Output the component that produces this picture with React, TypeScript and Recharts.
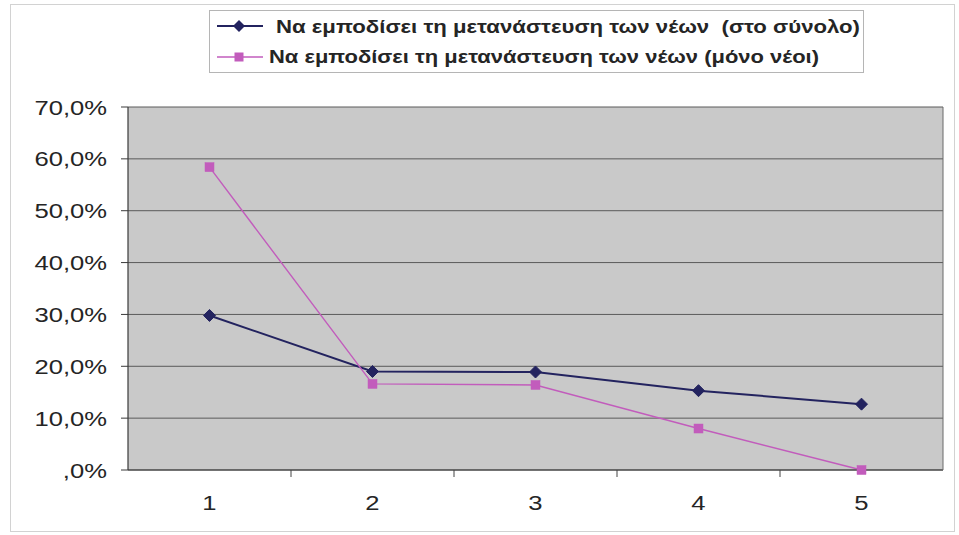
import React from "react";
import { LineChart, Line, XAxis, YAxis, CartesianGrid } from "recharts";

const categories = ["1", "2", "3", "4", "5"];
const seriesTotal = [29.8, 19.0, 18.9, 15.3, 12.7];
const seriesYoung = [58.4, 16.6, 16.4, 8.0, 0.0];
const yTicks = [0, 10, 20, 30, 40, 50, 60, 70];
const yTickLabels = [",0%", "10,0%", "20,0%", "30,0%", "40,0%", "50,0%", "60,0%", "70,0%"];
const seriesNames = [
  "Να εμποδίσει τη μετανάστευση των νέων  (στο σύνολο)",
  "Να εμποδίσει τη μετανάστευση των νέων (μόνο νέοι)",
];

const data = categories.map((c, i) => ({ cat: c, total: seriesTotal[i], young: seriesYoung[i] }));

const W = 959;
const H = 535;
const PLOT_LEFT = 128;
const PLOT_RIGHT = 943;
const PLOT_TOP = 107;
const PLOT_BOTTOM = 470;
const BAND = (PLOT_RIGHT - PLOT_LEFT) / categories.length;

const NAVY = "#23235f";
const PINK = "#c25cbc";
const FONT = "'Liberation Sans', Arial, sans-serif";
const TEXT = "#252525";

const YTick = (props: any) => {
  const { x, y, payload } = props;
  const idx = yTicks.indexOf(payload.value);
  return (
    <text
      transform={`translate(${x} ${y}) scale(1.22 1)`}
      textAnchor="end"
      dy="0.36em"
      fontSize={21}
      fontFamily={FONT}
      fill={TEXT}
    >
      {yTickLabels[idx]}
    </text>
  );
};

const XTick = (props: any) => {
  const { x, payload, index } = props;
  return (
    <g>
      {index < categories.length - 1 && (
        <line x1={x + BAND / 2} x2={x + BAND / 2} y1={PLOT_BOTTOM} y2={PLOT_BOTTOM + 7} stroke="#444" strokeWidth={1} />
      )}
      <text
        transform={`translate(${x} ${PLOT_BOTTOM + 40}) scale(1.22 1)`}
        textAnchor="middle"
        fontSize={21}
        fontFamily={FONT}
        fill={TEXT}
      >
        {payload.value}
      </text>
    </g>
  );
};

const Diamond = (props: any) => {
  const { cx, cy } = props;
  if (cx == null || cy == null) return null;
  const r = 6;
  return <polygon points={`${cx},${cy - r} ${cx + r},${cy} ${cx},${cy + r} ${cx - r},${cy}`} fill={NAVY} stroke={NAVY} />;
};

const Square = (props: any) => {
  const { cx, cy } = props;
  if (cx == null || cy == null) return null;
  const s = 4.5;
  return <rect x={cx - s} y={cy - s} width={2 * s} height={2 * s} fill={PINK} stroke={PINK} strokeWidth={0.5} />;
};

const LegendBox = () => (
  <svg width={W} height={H} style={{ position: "absolute", left: 0, top: 0, pointerEvents: "none" }}>
    <rect x={10.5} y={4.5} width={944} height={527} fill="none" stroke="#d2d2d2" strokeWidth={1} />
    <rect x={209.5} y={10.5} width={654} height={62} fill="#fff" stroke="#b5b5b5" strokeWidth={1} />
    <line x1={217} x2={263} y1={26} y2={26} stroke={NAVY} strokeWidth={2} />
    <polygon points="239,20 245,26 239,32 233,26" fill={NAVY} />
    <text
      x={276}
      y={33}
      textLength={584}
      lengthAdjust="spacingAndGlyphs"
      fontSize={19}
      fontWeight="bold"
      fontFamily={FONT}
      fill={TEXT}
      style={{ whiteSpace: "pre" }}
    >
      {seriesNames[0]}
    </text>
    <line x1={217} x2={263} y1={57} y2={57} stroke={PINK} strokeWidth={1.5} />
    <rect x={234.5} y={52.5} width={9} height={9} fill={PINK} />
    <text
      x={269}
      y={63}
      textLength={550}
      lengthAdjust="spacingAndGlyphs"
      fontSize={19}
      fontWeight="bold"
      fontFamily={FONT}
      fill={TEXT}
      style={{ whiteSpace: "pre" }}
    >
      {seriesNames[1]}
    </text>
  </svg>
);

export default function App() {
  return (
    <div style={{ position: "absolute", left: 0, top: 0, width: W, height: H, background: "#fff" }}>
      <LineChart
        width={W}
        height={H}
        data={data}
        margin={{ top: PLOT_TOP, right: 0, bottom: 0, left: 0 }}
      >
        <CartesianGrid fill="#c9c9c9" vertical={false} stroke="#5a5a5a" strokeWidth={1} yAxisId="left" />
        <XAxis
          dataKey="cat"
          height={H - PLOT_BOTTOM}
          padding={{ left: BAND / 2, right: BAND / 2 }}
          axisLine={{ stroke: "#3a3a3a", strokeWidth: 1.2 }}
          tickLine={false}
          tick={<XTick />}
          interval={0}
        />
        <YAxis
          yAxisId="left"
          width={PLOT_LEFT}
          domain={[0, 70]}
          ticks={yTicks}
          interval={0}
          tickSize={7}
          tickMargin={14}
          axisLine={{ stroke: "#3a3a3a", strokeWidth: 1.2 }}
          tickLine={{ stroke: "#3a3a3a" }}
          tick={<YTick />}
        />
        <YAxis
          yAxisId="right"
          orientation="right"
          width={W - PLOT_RIGHT}
          domain={[0, 70]}
          ticks={yTicks}
          tick={false}
          tickLine={false}
          axisLine={{ stroke: "#6a6a6a", strokeWidth: 1 }}
        />
        <Line
          yAxisId="left"
          type="linear"
          dataKey="total"
          name={seriesNames[0]}
          stroke={NAVY}
          strokeWidth={2}
          dot={<Diamond />}
          activeDot={false}
          isAnimationActive={false}
        />
        <Line
          yAxisId="left"
          type="linear"
          dataKey="young"
          name={seriesNames[1]}
          stroke={PINK}
          strokeWidth={1.4}
          dot={<Square />}
          activeDot={false}
          isAnimationActive={false}
        />
      </LineChart>
      <LegendBox />
    </div>
  );
}
